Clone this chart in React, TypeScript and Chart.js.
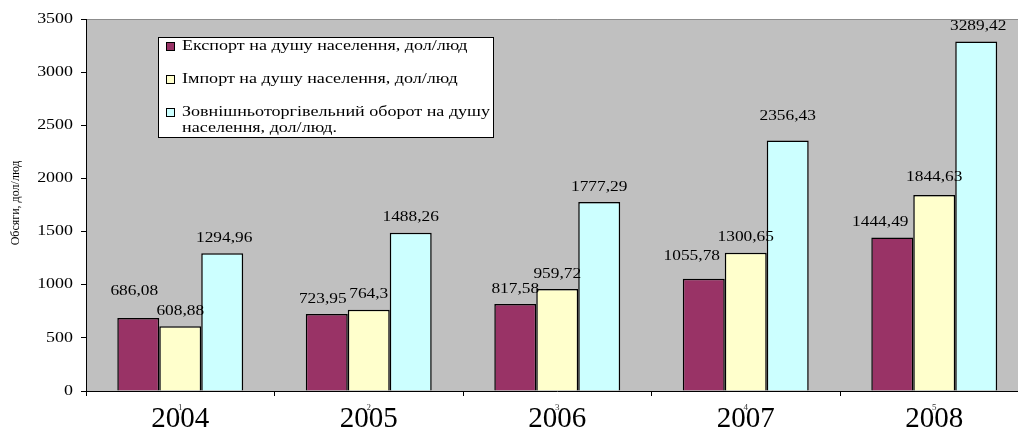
import React, { useEffect, useRef } from "react";
import { Chart, registerables } from "chart.js";

Chart.register(...registerables);

const years = ["2004", "2005", "2006", "2007", "2008"];
const yearMarks = ["1", "2", "3", "4", "5"];
const exportPerCapita = [686.08, 723.95, 817.58, 1055.78, 1444.49];
const importPerCapita = [608.88, 764.3, 959.72, 1300.65, 1844.63];
const turnoverPerCapita = [1294.96, 1488.26, 1777.29, 2356.43, 3289.42];
const seriesNames = [
  ["Експорт на душу населення, дол/люд"],
  ["Імпорт на душу населення, дол/люд"],
  ["Зовнішньоторгівельний оборот на душу", "населення, дол/люд."],
];
const yTicks = [0, 500, 1000, 1500, 2000, 2500, 3000, 3500];
const yTitle = "Обсяги, дол/люд";

const COLORS = ["#993366", "#FFFFCC", "#CCFFFF"];
// small label nudges [dx, extra lift] per series/category (style only)
const LABEL_NUDGE: number[][][] = [
  [[-4, 12], [-4, 0], [0, 0], [-12, 7], [-12, 0]],
  [[0, 0], [0, 0], [0, 0], [0, 0], [0, 3]],
  [[2, 0], [0, 0], [0, 0], [0, 9], [2, 0]],
];

const SERIF = "'Liberation Serif', 'Times New Roman', serif";
const SX = 1.24;
const LEGEND_SX = 1.29;

function stretchText(ctx: CanvasRenderingContext2D, s: string, x: number, y: number, align: CanvasTextAlign, sx: number) {
  ctx.save();
  ctx.translate(x, y);
  ctx.scale(sx, 1);
  ctx.textAlign = align;
  ctx.fillText(s, 0, 0);
  ctx.restore();
}

const decorPlugin = {
  id: "decor",
  beforeDraw(chart: any) {
    const { ctx, chartArea } = chart;
    ctx.save();
    ctx.fillStyle = "#C0C0C0";
    ctx.fillRect(chartArea.left, chartArea.top, chartArea.right - chartArea.left, chartArea.bottom - chartArea.top);
    ctx.strokeStyle = "#8c8c8c";
    ctx.lineWidth = 1;
    ctx.beginPath();
    ctx.moveTo(chartArea.left, chartArea.top + 0.5);
    ctx.lineTo(chartArea.right, chartArea.top + 0.5);
    ctx.stroke();
    ctx.restore();
  },
  afterDraw(chart: any) {
    const { ctx } = chart;
    const yScale = chart.scales.y;
    const xScale = chart.scales.x;
    ctx.save();
    ctx.fillStyle = "#000";
    ctx.textBaseline = "middle";
    ctx.font = `14px ${SERIF}`;
    // y tick labels
    yTicks.forEach((v) => {
      stretchText(ctx, String(v), 73, yScale.getPixelForValue(v), "right", 1.28);
    });
    // y title
    ctx.save();
    ctx.translate(16, 203);
    ctx.rotate(-Math.PI / 2);
    ctx.font = `12px ${SERIF}`;
    ctx.textAlign = "center";
    ctx.fillText(yTitle, 0, 0, 90);
    ctx.restore();
    // x labels
    years.forEach((yr, i) => {
      const cx = xScale.getPixelForValue(i);
      ctx.font = `29px ${SERIF}`;
      ctx.textBaseline = "alphabetic";
      ctx.textAlign = "center";
      ctx.fillText(yr, cx, 427);
      ctx.font = `9px ${SERIF}`;
      ctx.fillStyle = "#333";
      ctx.fillText(yearMarks[i], cx, 410);
      ctx.fillStyle = "#000";
    });
    // data labels
    ctx.font = `14px ${SERIF}`;
    ctx.textBaseline = "middle";
    chart.data.datasets.forEach((ds: any, di: number) => {
      const meta = chart.getDatasetMeta(di);
      meta.data.forEach((bar: any, i: number) => {
        const [dx, lift] = LABEL_NUDGE[di][i];
        const label = String(ds.data[i]).replace(".", ",");
        stretchText(ctx, label, bar.x + dx, bar.y - 15 - lift, "center", SX);
      });
    });
    // legend
    const lx = 158, ly = 37, lw = 335, lh = 100;
    ctx.fillStyle = "#fff";
    ctx.fillRect(lx, ly, lw, lh);
    ctx.strokeStyle = "#000";
    ctx.lineWidth = 1;
    ctx.strokeRect(lx + 0.5, ly + 0.5, lw, lh);
    const rowsY = [46, 79, 112];
    seriesNames.forEach((lines, i) => {
      ctx.fillStyle = COLORS[i];
      ctx.fillRect(166, rowsY[i] - 4, 9, 9);
      ctx.strokeStyle = "#000";
      ctx.strokeRect(166.5, rowsY[i] - 3.5, 8, 8);
      ctx.fillStyle = "#000";
      lines.forEach((ln, k) => {
        stretchText(ctx, ln, 182, rowsY[i] + k * 16, "left", LEGEND_SX);
      });
    });
    ctx.restore();
  },
};

export default function App() {
  const ref = useRef<HTMLCanvasElement | null>(null);
  useEffect(() => {
    if (!ref.current) return;
    const mk = (label: string, data: number[], color: string) => ({
      label,
      data,
      backgroundColor: color,
      borderColor: "#000",
      borderWidth: 1.5,
      categoryPercentage: 0.668,
      barPercentage: 1,
    });
    const chart = new Chart(ref.current, {
      type: "bar",
      data: {
        labels: years,
        datasets: [
          mk(seriesNames[0].join(" "), exportPerCapita, COLORS[0]),
          mk(seriesNames[1].join(" "), importPerCapita, COLORS[1]),
          mk(seriesNames[2].join(" "), turnoverPerCapita, COLORS[2]),
        ],
      },
      options: {
        animation: false,
        responsive: false,
        devicePixelRatio: 1,
        layout: { padding: { top: 19, right: 1.5, left: 0, bottom: 0 } },
        plugins: { legend: { display: false }, tooltip: { enabled: false } },
        scales: {
          x: {
            offset: true,
            grid: { offset: true, drawOnChartArea: false, drawTicks: true, tickLength: 5, color: "#000" },
            border: { display: true, color: "#000", width: 1 },
            ticks: { color: "rgba(0,0,0,0)", font: { size: 1 }, padding: 0, autoSkip: false, maxRotation: 0 },
            afterFit: (s: any) => { s.height = 36; },
          },
          y: {
            min: 0,
            max: 3500,
            grid: { drawOnChartArea: false, drawTicks: true, tickLength: 5, color: "#000" },
            border: { display: true, color: "#000", width: 1 },
            ticks: { stepSize: 500, color: "rgba(0,0,0,0)", font: { size: 1 }, padding: 0 },
            afterFit: (s: any) => { s.width = 86; },
          },
        },
      },
      plugins: [decorPlugin],
    });
    return () => chart.destroy();
  }, []);
  return (
    <div style={{ position: "fixed", left: 0, top: 0, width: 1018, height: 427, overflow: "hidden", background: "#fff" }}>
      <canvas ref={ref} width={1030} height={427} style={{ width: 1030, height: 427, display: "block" }} />
    </div>
  );
}
